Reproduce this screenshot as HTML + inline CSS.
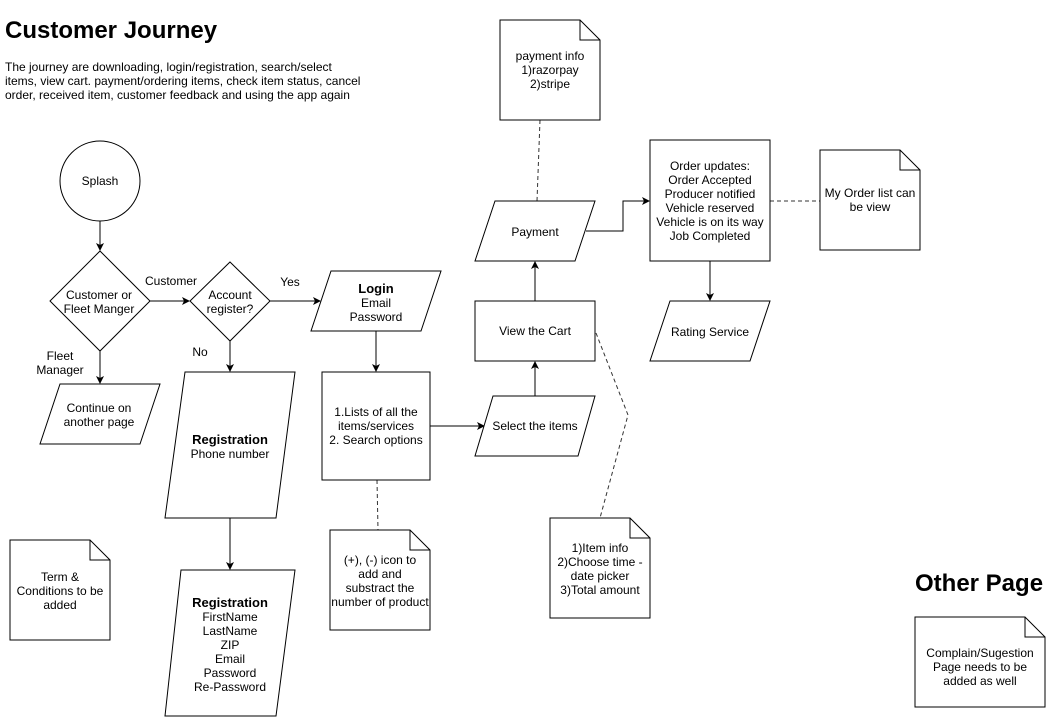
<!DOCTYPE html>
<html><head><meta charset="utf-8"><style>
html,body{margin:0;padding:0;background:#fff;}
svg{display:block;font-family:"Liberation Sans",Arial,sans-serif;}
text{font-size:12px;fill:#000;text-anchor:middle;}
</style></head><body>
<svg width="1051" height="717" viewBox="0 0 1051 717" xmlns="http://www.w3.org/2000/svg">
<defs><marker id="a" markerWidth="8" markerHeight="8" refX="7" refY="4" orient="auto" markerUnits="userSpaceOnUse"><path d="M0,0 L8,4 L0,8 L2,4 Z" fill="#000"/></marker></defs>
<g fill="#fff" stroke="#000" stroke-width="1">
<text x="5" y="38" style="font-size:24px;font-weight:bold;text-anchor:start" stroke="none">Customer Journey</text>
<g stroke="none"><text x="5" y="71" style="text-anchor:start">The journey are downloading, login/registration, search/select</text>
<text x="5" y="85" style="text-anchor:start">items, view cart. payment/ordering items, check item status, cancel</text>
<text x="5" y="99" style="text-anchor:start">order, received item, customer feedback and using the app again</text>
<text x="915" y="591" style="font-size:24px;font-weight:bold;text-anchor:start">Other Page</text></g>

<g fill="none">
<line x1="100" y1="221" x2="100" y2="250" marker-end="url(#a)"/>
<line x1="150" y1="301" x2="189" y2="301" marker-end="url(#a)"/>
<line x1="270" y1="301" x2="320" y2="301" marker-end="url(#a)"/>
<line x1="100" y1="351" x2="100" y2="383" marker-end="url(#a)"/>
<line x1="230" y1="341" x2="230" y2="371" marker-end="url(#a)"/>
<line x1="376" y1="331" x2="376" y2="371" marker-end="url(#a)"/>
<line x1="230" y1="518" x2="230" y2="569" marker-end="url(#a)"/>
<line x1="430" y1="426" x2="484" y2="426" marker-end="url(#a)"/>
<line x1="535" y1="396" x2="535" y2="362" marker-end="url(#a)"/>
<line x1="535" y1="301" x2="535" y2="262" marker-end="url(#a)"/>
<polyline points="586,231 623,231 623,201 649,201" marker-end="url(#a)"/>
<line x1="710" y1="261" x2="710" y2="300" marker-end="url(#a)"/>
<g stroke-dasharray="4,3" stroke="#333">
<line x1="540" y1="120" x2="537" y2="201"/>
<line x1="770" y1="201" x2="820" y2="201"/>
<line x1="377" y1="480" x2="378" y2="530"/>
<polyline points="596,333 628,415 600,518"/>
</g>
</g>

<circle cx="100" cy="181" r="40"/>
<polygon points="100,251 150,301 100,351 50,301"/>
<polygon points="230,262 270,301 230,341 190,301"/>
<polygon points="60,384 160,384 140,444 40,444"/>
<polygon points="331,271 441,271 421,331 311,331"/>
<rect x="322" y="372" width="108" height="108"/>
<polygon points="185,372 295,372 276,518 165,518"/>
<polygon points="181,570 295,570 276,716 165,716"/>
<polygon points="493,396 595,396 578,456 475,456"/>
<rect x="475" y="301" width="120" height="60"/>
<polygon points="495,201 595,201 575,261 475,261"/>
<rect x="650" y="140" width="120" height="121"/>
<polygon points="670,301 770,301 750,361 650,361"/>
<path d="M500,20 H580 L600,40 V120 H500 Z M580,20 V40 H600"/>
<path d="M820,150 H900 L920,170 V250 H820 Z M900,150 V170 H920"/>
<path d="M10,540 H90 L110,560 V640 H10 Z M90,540 V560 H110"/>
<path d="M330,530 H410 L430,550 V630 H330 Z M410,530 V550 H430"/>
<path d="M550,518 H630 L650,538 V618 H550 Z M630,518 V538 H650"/>
<path d="M915,617 H1025 L1045,637 V707 H915 Z M1025,617 V637 H1045"/>

<g stroke="none">
<text x="100" y="185">Splash</text>
<text x="99" y="299">Customer or</text><text x="99" y="313">Fleet Manger</text>
<text x="230" y="299">Account</text><text x="230" y="313">register?</text>
<text x="171" y="285">Customer</text>
<text x="290" y="286">Yes</text>
<text x="200" y="356">No</text>
<text x="60" y="360">Fleet</text><text x="60" y="374">Manager</text>
<text x="99" y="412">Continue on</text><text x="99" y="426">another page</text>
<text x="376" y="293" style="font-weight:bold;font-size:13px">Login</text>
<text x="376" y="307">Email</text><text x="376" y="321">Password</text>
<text x="376" y="416">1.Lists of all the</text><text x="376" y="430">items/services</text><text x="376" y="444">2. Search options</text>
<text x="230" y="444" style="font-weight:bold;font-size:13px">Registration</text>
<text x="230" y="458">Phone number</text>
<text x="230" y="607" style="font-weight:bold;font-size:13px">Registration</text>
<text x="230" y="621">FirstName</text><text x="230" y="635">LastName</text><text x="230" y="649">ZIP</text><text x="230" y="663">Email</text><text x="230" y="677">Password</text><text x="230" y="691">Re-Password</text>
<text x="535" y="430">Select the items</text>
<text x="535" y="335">View the Cart</text>
<text x="535" y="236">Payment</text>
<text x="550" y="60">payment info</text><text x="550" y="74">1)razorpay</text><text x="550" y="88">2)stripe</text>
<text x="710" y="170">Order updates:</text><text x="710" y="184">Order Accepted</text><text x="710" y="198">Producer notified</text><text x="710" y="212">Vehicle reserved</text><text x="710" y="226">Vehicle is on its way</text><text x="710" y="240">Job Completed</text>
<text x="870" y="197">My Order list can</text><text x="870" y="211">be view</text>
<text x="710" y="336">Rating Service</text>
<text x="60" y="581">Term &amp;</text><text x="60" y="595">Conditions to be</text><text x="60" y="609">added</text>
<text x="380" y="564">(+), (-) icon to</text><text x="380" y="578">add and</text><text x="380" y="592">substract the</text><text x="380" y="606">number of product</text>
<text x="600" y="552">1)Item info</text><text x="600" y="566">2)Choose time -</text><text x="600" y="580">date picker</text><text x="600" y="594">3)Total amount</text>
<text x="980" y="657">Complain/Sugestion</text><text x="980" y="671">Page needs to be</text><text x="980" y="685">added as well</text>
</g>
</g>
</svg>
</body></html>
